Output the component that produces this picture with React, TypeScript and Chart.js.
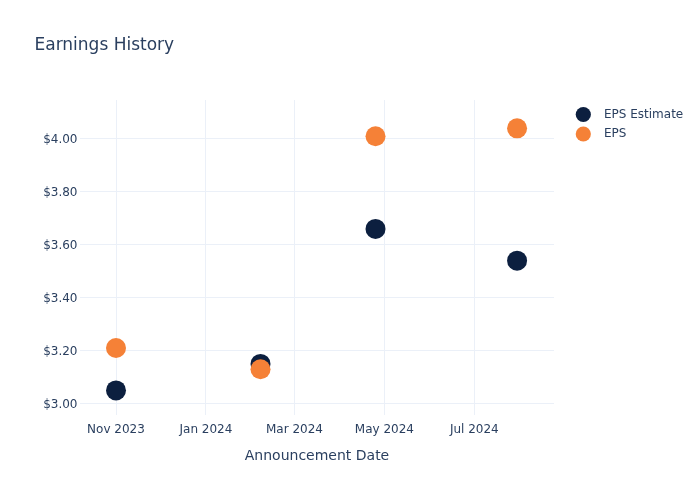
import React, { useEffect, useRef } from 'react';
import { Chart, registerables } from 'chart.js';

Chart.register(...registerables);

// ---- data ----
const announceDates = ['2023-11-01', '2024-02-07', '2024-04-25', '2024-07-30'];
const epsEstimate = [3.05, 3.15, 3.66, 3.54];
const epsActual = [3.21, 3.13, 4.01, 4.04];
const seriesNames = ['EPS Estimate', 'EPS'];
const xTickDates = ['2023-11-01', '2024-01-01', '2024-03-01', '2024-05-01', '2024-07-01'];
const xTickLabels = ['Nov 2023', 'Jan 2024', 'Mar 2024', 'May 2024', 'Jul 2024'];
const yTickValues = [3.0, 3.2, 3.4, 3.6, 3.8, 4.0];
const xRange = ['2023-10-07T14:00:00Z', '2024-08-24T01:00:00Z'];
const yRange = [2.957, 4.147];
const chartTitle = 'Earnings History';
const xAxisTitle = 'Announcement Date';

const toMs = (s: string) => Date.parse(s.length === 10 ? s + 'T00:00:00Z' : s);

const TEXT = '#2a3f5f';
const GRID = '#ebf0f8';
const FONT = "'DejaVu Sans', sans-serif";
const COLORS = ['#0c1f3f', '#f58137'];

const sideLegend = {
  id: 'sideLegend',
  afterDraw(chart: any) {
    const { ctx, chartArea } = chart;
    ctx.save();
    ctx.font = `12px ${FONT}`;
    ctx.textBaseline = 'middle';
    ctx.textAlign = 'left';
    chart.data.datasets.forEach((ds: any, i: number) => {
      const cy = chartArea.top + 14.5 + i * 19.5;
      const cx = chartArea.right + 29.3;
      ctx.beginPath();
      ctx.arc(cx, cy, 7.6, 0, Math.PI * 2);
      ctx.fillStyle = ds.backgroundColor;
      ctx.fill();
      ctx.fillStyle = TEXT;
      ctx.fillText(ds.label, chartArea.right + 50, cy);
    });
    ctx.restore();
  },
};

export default function App() {
  const ref = useRef<HTMLCanvasElement | null>(null);
  useEffect(() => {
    if (!ref.current) return;
    const xs = announceDates.map(toMs);
    const chart = new Chart(ref.current, {
      type: 'scatter',
      data: {
        datasets: [
          {
            label: seriesNames[0],
            data: xs.map((x, i) => ({ x, y: epsEstimate[i] })),
            backgroundColor: COLORS[0],
            borderColor: COLORS[0],
            borderWidth: 0,
            pointRadius: 10,
            pointHoverRadius: 10,
            order: 1,
          },
          {
            label: seriesNames[1],
            data: xs.map((x, i) => ({ x, y: epsActual[i] })),
            backgroundColor: COLORS[1],
            borderColor: COLORS[1],
            borderWidth: 0,
            pointRadius: 10,
            pointHoverRadius: 10,
            order: 0,
          },
        ],
      },
      options: {
        responsive: false,
        animation: false,
        devicePixelRatio: 1,
        layout: { padding: { left: 34.5, right: 146, top: 0, bottom: 0 } },
        plugins: {
          legend: { display: false },
          tooltip: { enabled: false },
          title: {
            display: true,
            text: chartTitle,
            align: 'start',
            color: TEXT,
            font: { family: FONT, size: 17, weight: 'normal' },
            padding: { top: 35.8, bottom: 43.8 },
          },
        },
        scales: {
          x: {
            type: 'linear',
            min: toMs(xRange[0]),
            max: toMs(xRange[1]),
            afterBuildTicks: (scale: any) => {
              scale.ticks = xTickDates.map((d) => ({ value: toMs(d) }));
            },
            afterFit: (scale: any) => {
              scale.height = 85;
            },
            ticks: {
              color: TEXT,
              font: { family: FONT, size: 12 },
              padding: 8,
              maxRotation: 0,
              autoSkip: false,
              callback: (v: any) => {
                const idx = xTickDates.findIndex((d) => toMs(d) === v);
                return idx >= 0 ? xTickLabels[idx] : '';
              },
            },
            grid: { color: GRID, drawTicks: false, lineWidth: 1 },
            border: { display: false },
            title: {
              display: true,
              text: xAxisTitle,
              color: TEXT,
              font: { family: FONT, size: 14 },
              padding: { top: 0, bottom: 35.6 },
            },
          },
          y: {
            type: 'linear',
            min: yRange[0],
            max: yRange[1],
            afterBuildTicks: (scale: any) => {
              scale.ticks = yTickValues.map((v) => ({ value: v }));
            },
            afterFit: (scale: any) => {
              scale.width = 45.5;
            },
            ticks: {
              color: TEXT,
              font: { family: FONT, size: 12 },
              padding: 2.5,
              labelOffset: 1,
              callback: (v: any) => '$' + Number(v).toFixed(2),
            },
            grid: { color: GRID, drawTicks: false, lineWidth: 1 },
            border: { display: false },
          },
        },
      },
      plugins: [sideLegend],
    } as any);
    return () => chart.destroy();
  }, []);

  return (
    <div style={{ position: 'absolute', left: 0, top: 0, width: 700, height: 500, background: '#fff' }}>
      <canvas ref={ref} width={700} height={500} style={{ display: 'block' }} />
    </div>
  );
}
